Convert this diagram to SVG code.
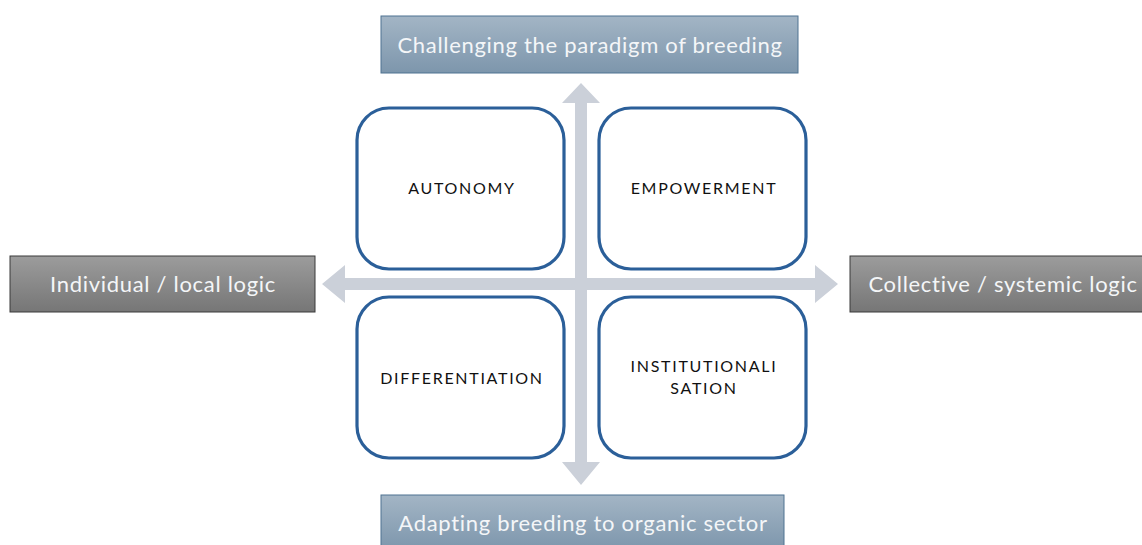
<svg xmlns="http://www.w3.org/2000/svg" width="1142" height="545" viewBox="0 0 1142 545">
  <style>
    .axis-title { font-family: Lato, "Open Sans", "Liberation Sans", sans-serif; font-size: 22px; letter-spacing: 0.7px; fill: #f4f6f8; text-anchor: middle; }
    .quad { fill: #ffffff; stroke: #2b5f99; stroke-width: 3.2; }
    .quad-label { font-family: Lato, "Open Sans", "Liberation Sans", sans-serif; font-size: 16px; letter-spacing: 1.7px; fill: #111111; text-anchor: middle; }
    .blue-box { fill: url(#blueGrad); stroke: #4f7391; stroke-width: 1; }
    .grey-box { fill: url(#greyGrad); stroke: #3a3a3a; stroke-width: 1; }
    .cross { fill: #cbd0d9; }
  </style>
  <defs>
    <linearGradient id="blueGrad" x1="0" y1="0" x2="0" y2="1">
      <stop offset="0" stop-color="#a3b5c5"/>
      <stop offset="1" stop-color="#7d96ac"/>
    </linearGradient>
    <linearGradient id="greyGrad" x1="0" y1="0" x2="0" y2="1">
      <stop offset="0" stop-color="#9c9c9c"/>
      <stop offset="1" stop-color="#767676"/>
    </linearGradient>
  </defs>
  <rect width="1142" height="545" fill="#ffffff"/>

  <!-- axes: double-headed cross arrows -->
  <g id="connectors">
    <path class="cross" d="M581,83 L600,103 L587,103 L587,462 L600,462 L581,485 L562,462 L575,462 L575,103 L562,103 Z"/>
    <path class="cross" d="M322,284 L345,265 L345,278 L815,278 L815,265 L838,284 L815,303 L815,290 L345,290 L345,303 Z"/>
  </g>

  <g id="top-pole">
    <rect class="blue-box" x="381" y="16" width="417" height="57"/>
    <text class="axis-title" x="590" y="53">Challenging the paradigm of breeding</text>
  </g>
  <g id="bottom-pole">
    <rect class="blue-box" x="381" y="495" width="403" height="55"/>
    <text class="axis-title" x="583" y="531">Adapting breeding to organic sector</text>
  </g>
  <g id="left-pole">
    <rect class="grey-box" x="10" y="256" width="305" height="56"/>
    <text class="axis-title" x="163" y="292">Individual / local logic</text>
  </g>
  <g id="right-pole">
    <rect class="grey-box" x="850" y="256" width="300" height="56"/>
    <text class="axis-title" x="1003" y="292">Collective / systemic logic</text>
  </g>

  <g id="autonomy">
    <rect class="quad" x="357" y="108" width="207" height="161" rx="32"/>
    <text class="quad-label" x="462" y="194">AUTONOMY</text>
  </g>
  <g id="empowerment">
    <rect class="quad" x="599" y="108" width="207" height="161" rx="32"/>
    <text class="quad-label" x="704" y="194">EMPOWERMENT</text>
  </g>
  <g id="differentiation">
    <rect class="quad" x="357" y="297" width="207" height="161" rx="32"/>
    <text class="quad-label" x="462" y="384">DIFFERENTIATION</text>
  </g>
  <g id="institutionalisation">
    <rect class="quad" x="599" y="297" width="207" height="161" rx="32"/>
    <text class="quad-label" x="704" y="372">INSTITUTIONALI</text>
    <text class="quad-label" x="704" y="394">SATION</text>
  </g>
</svg>
